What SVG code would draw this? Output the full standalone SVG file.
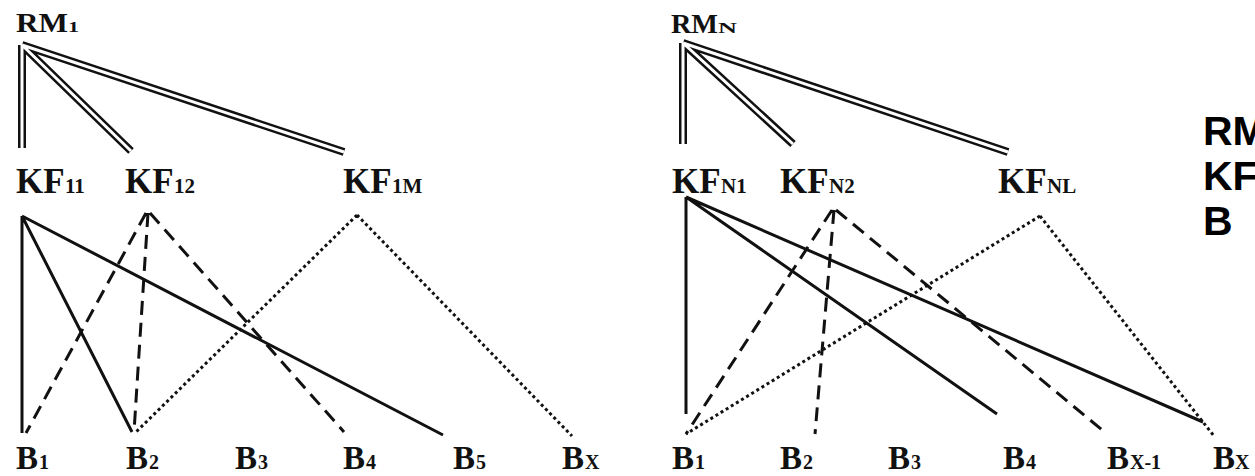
<svg xmlns="http://www.w3.org/2000/svg" width="1255" height="476" viewBox="0 0 1255 476">
<style>
.lbl{font-family:"Liberation Serif","Times New Roman",serif;font-weight:bold;fill:#111}
.m{font-size:35px}
.s{font-size:21px}
.bm{font-size:33px}
.bs{font-size:20px}
.rm{font-size:28px}
.rs{font-size:14px}
.leg{font-family:"Liberation Sans",Arial,sans-serif;font-weight:bold;font-size:41px;fill:#000}
.dbo{fill:none;stroke:#111;stroke-width:8}
.dbi{fill:none;stroke:#fff;stroke-width:3}
.sol{fill:none;stroke:#111;stroke-width:3}
.dsh{fill:none;stroke:#111;stroke-width:3;stroke-dasharray:14 8}
.dot{fill:none;stroke:#111;stroke-width:3;stroke-dasharray:3 3}
</style>
<rect width="1255" height="476" fill="#fff"/>
<g id="connectors">
  <path class="dbo" d="M22,45 L22,148 M22,45 L131,151 M22,45 L344,152"/>
  <path class="dbi" d="M22,45 L22,148 M22,45 L131,151 M22,45 L344,152"/>
  <path class="sol" d="M22,216 L22,433 M22,216 L132,432 M22,216 L443,435"/>
  <path class="dsh" d="M146,213 L26,433 M148,213 L134,432 M150,213 L344,432"/>
  <path class="dot" d="M357,215 L136,432 M357,215 L572,436"/>
  <path class="dbo" d="M683,43 L683,144 M683,43 L793,144 M683,43 L1008,152"/>
  <path class="dbi" d="M683,43 L683,144 M683,43 L793,144 M683,43 L1008,152"/>
  <path class="sol" d="M686,197 L686,414 M686,197 L997,414 M686,197 L1203,422"/>
  <path class="dsh" d="M832,210 L686,434 M834,210 L815,434 M836,210 L1107,434"/>
  <path class="dot" d="M1040,216 L686,434 M1040,216 L1214,436"/>
</g>
<g id="RM1"><text class="lbl" y="32"><tspan class="rm" x="16" textLength="52" lengthAdjust="spacingAndGlyphs">RM</tspan><tspan class="rs" x="68" textLength="11" lengthAdjust="spacingAndGlyphs">1</tspan></text></g>
<g id="KF11"><text class="lbl" y="193"><tspan class="m" x="16">KF</tspan><tspan class="s" x="65">11</tspan></text></g>
<g id="KF12"><text class="lbl" y="193"><tspan class="m" x="125">KF</tspan><tspan class="s" x="174">12</tspan></text></g>
<g id="KF1M"><text class="lbl" y="193"><tspan class="m" x="343">KF</tspan><tspan class="s" x="392">1M</tspan></text></g>
<g id="L_B1"><text class="lbl" y="469"><tspan class="bm" x="16">B</tspan><tspan class="bs" x="39">1</tspan></text></g>
<g id="L_B2"><text class="lbl" y="469"><tspan class="bm" x="126">B</tspan><tspan class="bs" x="149">2</tspan></text></g>
<g id="L_B3"><text class="lbl" y="469"><tspan class="bm" x="235">B</tspan><tspan class="bs" x="258">3</tspan></text></g>
<g id="L_B4"><text class="lbl" y="469"><tspan class="bm" x="343">B</tspan><tspan class="bs" x="366">4</tspan></text></g>
<g id="L_B5"><text class="lbl" y="469"><tspan class="bm" x="453">B</tspan><tspan class="bs" x="476">5</tspan></text></g>
<g id="L_BX"><text class="lbl" y="469"><tspan class="bm" x="562">B</tspan><tspan class="bs" x="585">X</tspan></text></g>
<g id="RMN"><text class="lbl" y="33"><tspan class="rm" x="671" textLength="47" lengthAdjust="spacingAndGlyphs">RM</tspan><tspan class="rs" x="718" textLength="19" lengthAdjust="spacingAndGlyphs">N</tspan></text></g>
<g id="KFN1"><text class="lbl" y="193"><tspan class="m" x="672">KF</tspan><tspan class="s" x="721">N1</tspan></text></g>
<g id="KFN2"><text class="lbl" y="193"><tspan class="m" x="780">KF</tspan><tspan class="s" x="829">N2</tspan></text></g>
<g id="KFNL"><text class="lbl" y="193"><tspan class="m" x="998">KF</tspan><tspan class="s" x="1047">NL</tspan></text></g>
<g id="R_B1"><text class="lbl" y="469"><tspan class="bm" x="672">B</tspan><tspan class="bs" x="695">1</tspan></text></g>
<g id="R_B2"><text class="lbl" y="469"><tspan class="bm" x="780">B</tspan><tspan class="bs" x="803">2</tspan></text></g>
<g id="R_B3"><text class="lbl" y="469"><tspan class="bm" x="888">B</tspan><tspan class="bs" x="911">3</tspan></text></g>
<g id="R_B4"><text class="lbl" y="469"><tspan class="bm" x="1003">B</tspan><tspan class="bs" x="1026">4</tspan></text></g>
<g id="R_BX1"><text class="lbl" y="469"><tspan class="bm" x="1107">B</tspan><tspan class="bs" x="1130">X-1</tspan></text></g>
<g id="R_BX"><text class="lbl" y="469"><tspan class="bm" x="1213">B</tspan><tspan class="bs" x="1235">X</tspan></text></g>
<g id="legend">
  <text class="leg" x="1203" y="145">RM</text>
  <text class="leg" x="1203" y="190">KF</text>
  <text class="leg" x="1203" y="235">B</text>
</g>
</svg>
